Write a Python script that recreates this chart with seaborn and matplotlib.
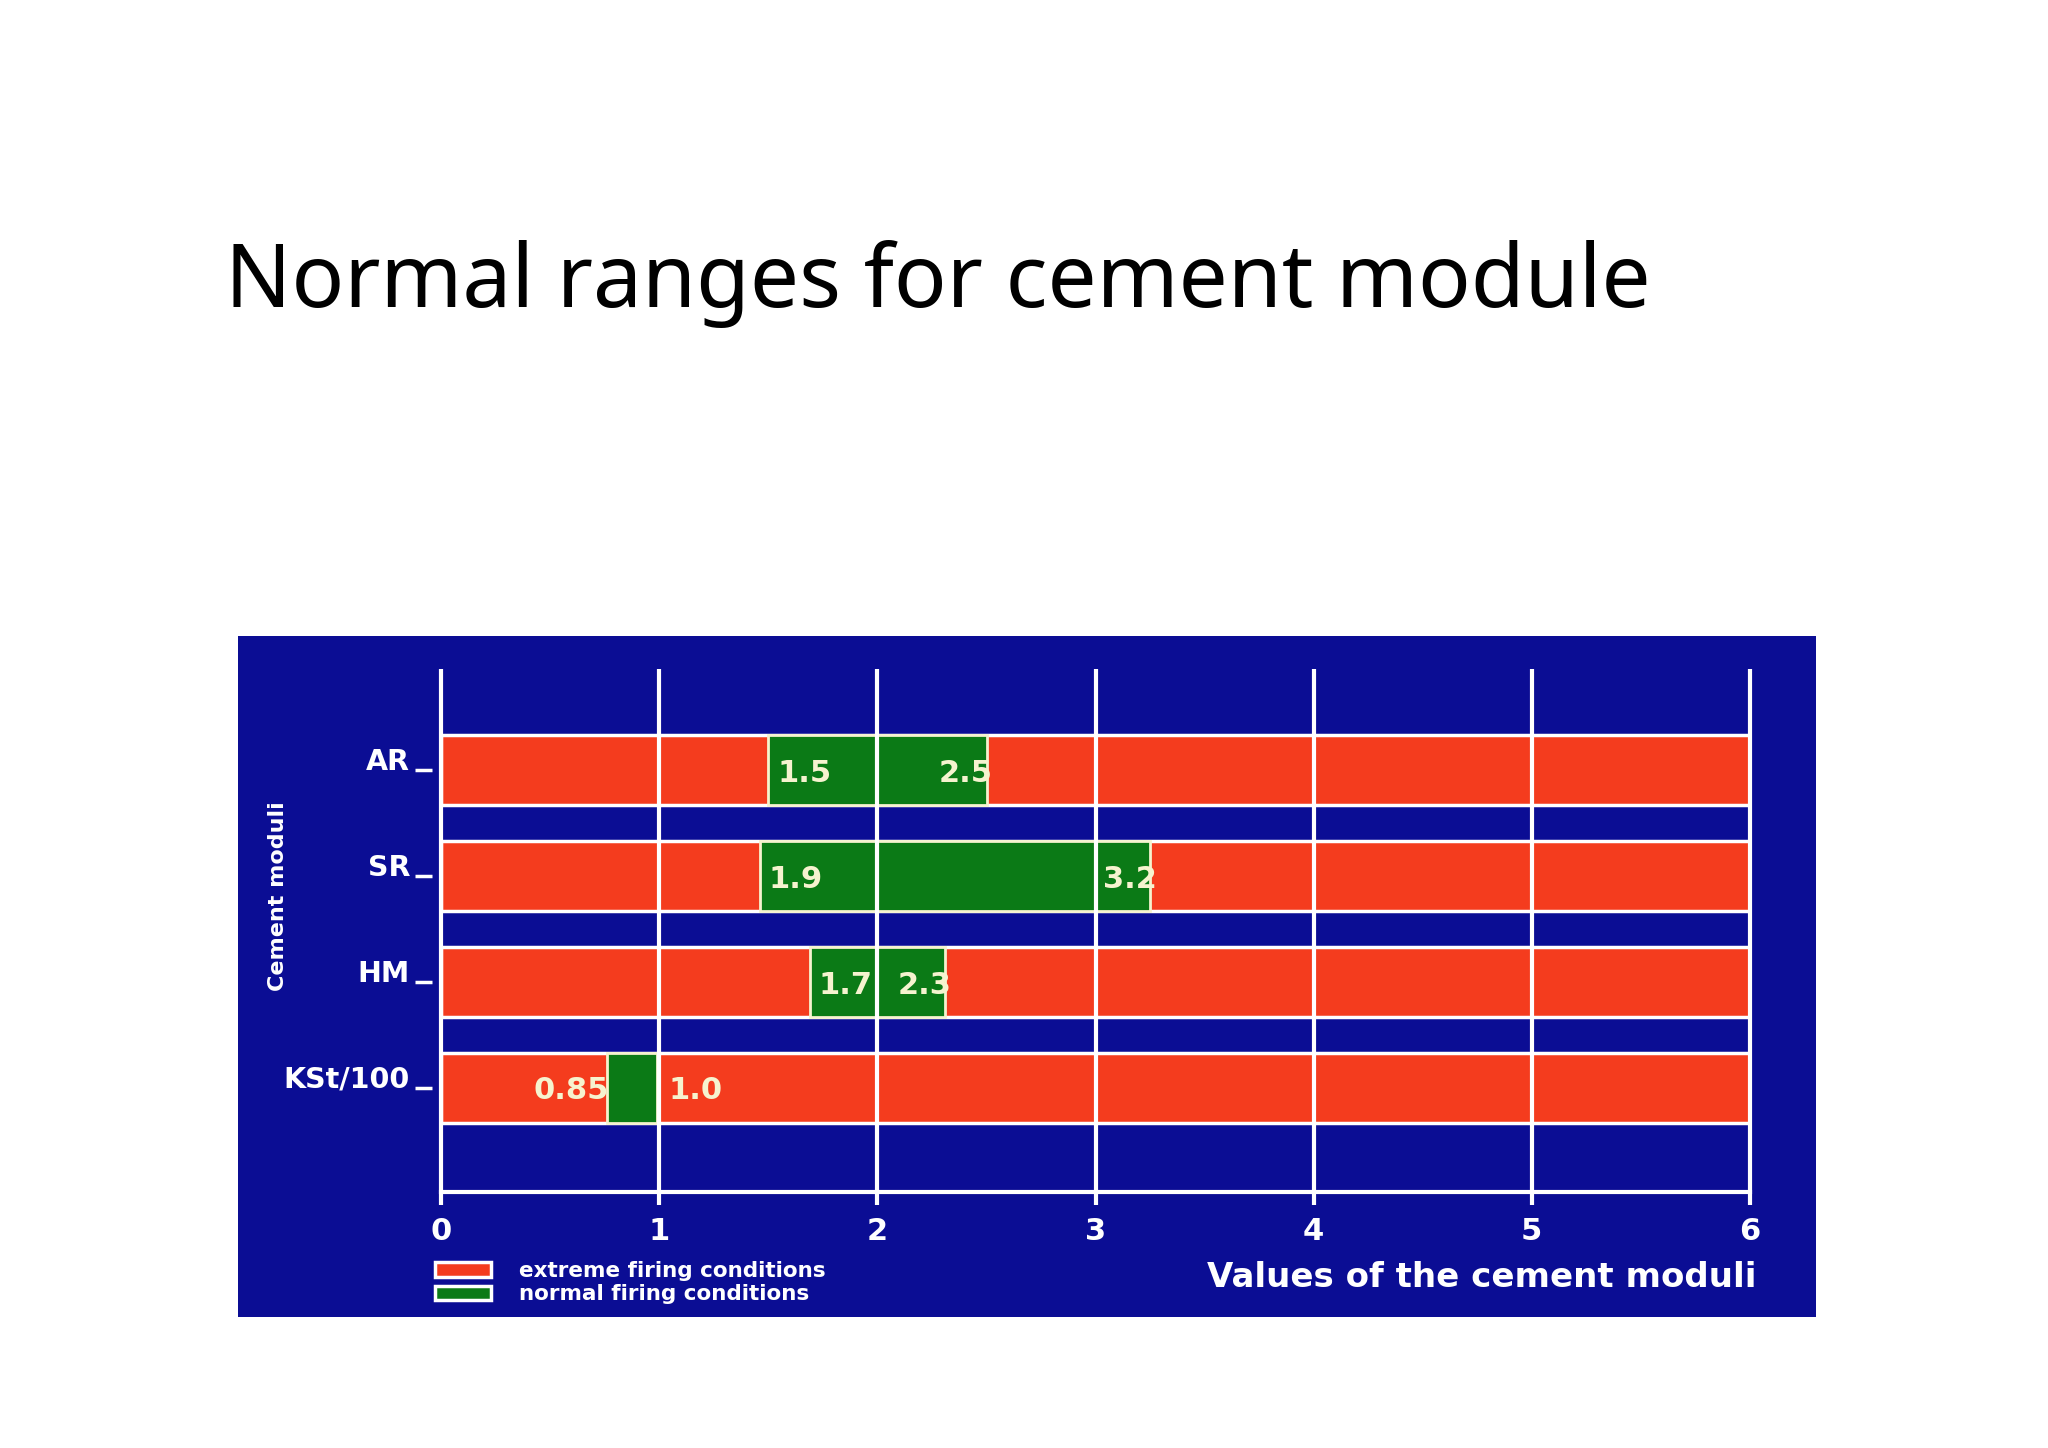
import numpy as np
import pandas as pd
import matplotlib
matplotlib.use("Agg")
import matplotlib.pyplot as plt
import seaborn as sns
from matplotlib.patches import Patch

# data
categories = ["AR", "SR", "HM", "KSt/100"]
scale_max = [6, 6, 6, 6]
normal_lo = [1.5, 1.46, 1.69, 0.76]
normal_hi = [2.5, 3.25, 2.31, 0.99]
lo_text = ["1.5", "1.9", "1.7", "0.85"]
hi_text = ["2.5", "3.2", "2.3", "1.0"]
labels_inside = [True, True, True, False]
x_ticks = [0, 1, 2, 3, 4, 5, 6]
legend_labels = ["extreme firing conditions", "normal firing conditions"]

BLUE = "#0b0d94"
RED = "#f43c1e"
GREEN = "#0b7a16"
CREAM = "#f6f3cf"

sns.set_style("white")
plt.rcParams["font.family"] = ["DejaVu Sans"]

fig = plt.figure(figsize=(20.48, 14.48), dpi=100)
fig.patch.set_facecolor("white")

# title of the slide
fig.text(0.1097, 0.788, "Normal ranges for cement module", fontsize=63,
         family=["Noto Sans", "DejaVu Sans"], color="black",
         ha="left", va="baseline")

# blue panel behind the chart
panel = fig.add_axes([0.1161, 0.0908, 0.7704, 0.470])
panel.set_facecolor(BLUE)
panel.set_xticks([])
panel.set_yticks([])
for s in panel.spines.values():
    s.set_visible(False)

ax = fig.add_axes([0.2155, 0.1765, 0.6389, 0.3617], facecolor="none")

df = pd.DataFrame({"module": categories, "max": scale_max})
sns.barplot(data=df, x="max", y="module", orient="h", color=RED,
            saturation=1, width=0.66, edgecolor="white", linewidth=2.5,
            errorbar=None, ax=ax, zorder=2)

ypos = np.arange(len(categories))
ax.barh(ypos, np.subtract(normal_hi, normal_lo), left=normal_lo, height=0.66,
        color=GREEN, edgecolor=CREAM, linewidth=2, zorder=3)

# white grid lines run over the bars
ax.vlines(x_ticks, ymin=-0.96, ymax=3.99, colors="white", linewidth=3,
          zorder=4, clip_on=False)

lab = dict(va="center", color=CREAM, fontsize=22, fontweight="bold", zorder=5)
for i in range(len(categories)):
    if labels_inside[i]:
        ax.text(normal_lo[i] + 0.04, i + 0.03, lo_text[i], ha="left", **lab)
        ax.text(normal_hi[i] + 0.03, i + 0.03, hi_text[i], ha="right", **lab)
    else:
        ax.text(normal_lo[i] + 0.01, i + 0.03, lo_text[i], ha="right", **lab)
        ax.text(normal_hi[i] + 0.05, i + 0.03, hi_text[i], ha="left", **lab)

# spine moves first: set_position resets the ticks
ax.spines["left"].set_position(("outward", 6.5))
ax.spines["left"].set_visible(False)
ax.spines["top"].set_visible(False)
ax.spines["right"].set_visible(False)
ax.spines["bottom"].set_color("white")
ax.spines["bottom"].set_linewidth(3)
ax.spines["bottom"].set_zorder(4)

ax.set_xlim(0, 6)
ax.set_ylim(3.99, -0.96)
ax.set_xticks(x_ticks)
ax.set_xticklabels([str(t) for t in x_ticks], fontsize=22, fontweight="bold",
                   color="white")
ax.tick_params(axis="x", direction="out", length=9, width=3, color="white",
               pad=9, bottom=True)
ax.tick_params(axis="y", direction="out", length=12, width=2.5, color="white",
               pad=4, left=True)
ax.set_yticks(ypos)
# labels sit on their dash, like on the slide
ax.set_yticklabels(categories, fontsize=20.5, fontweight="bold", color="white",
                   va="baseline")
ax.set_xlabel("")
ax.set_ylabel("")

fig.text(0.8577, 0.118, "Values of the cement moduli",
         ha="right", va="center", color="white", fontsize=24.5, fontweight="bold")
fig.text(0.1358, 0.381, "Cement moduli", rotation=90,
         ha="center", va="center", color="white", fontsize=16, fontweight="bold")

handles = [Patch(facecolor=RED, edgecolor="white", linewidth=2.5),
           Patch(facecolor=GREEN, edgecolor="white", linewidth=2.5)]
fig.legend(handles, legend_labels, loc="upper left",
           bbox_to_anchor=(0.2124, 0.129), frameon=False,
           labelcolor="white", prop={"weight": "bold", "size": 15.5},
           handlelength=2.6, handleheight=0.65, labelspacing=0.15,
           handletextpad=1.3, borderpad=0, borderaxespad=0)

fig.savefig("out.png", dpi=100, facecolor="white")
